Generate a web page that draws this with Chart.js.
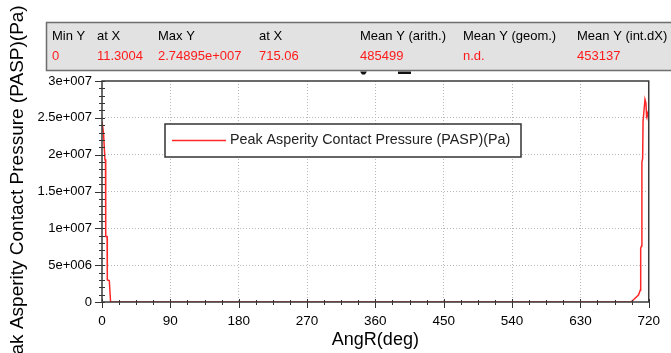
<!DOCTYPE html>
<html>
<head>
<meta charset="utf-8">
<script src="https://cdn.jsdelivr.net/npm/chart.js@4.4.1/dist/chart.umd.min.js"></script>
<style>
  body { margin: 0; background: #fff; }
  canvas { display: block; }
</style>
</head>
<body>
<canvas id="graficoPresion" width="671" height="353"></canvas>
<script>
// 1. Datos
const angulos = [0, 2, 3.9, 4.6, 4.9, 6.7, 7.0, 9.6, 11.3,
                 696.5, 701, 706.5, 708.8, 709.4, 710.5, 711, 712, 712.5,
                 715.06, 716.3, 717.2, 718.5, 720];
const presiones = [2.45e7, 2.29e7, 1.93e7, 1.93e7, 8.9e6, 8.9e6, 3.0e6, 2.9e6, 0,
                   0, 4e5, 9.5e5, 1.6e6, 7.3e6, 7.6e6, 1.9e7, 1.95e7, 2.45e7,
                   2.74895e7, 2.7e7, 2.52e7, 2.56e7, 2.45e7];
const marcasX = [0, 90, 180, 270, 360, 450, 540, 630, 720];
const marcasY = [0, 5e6, 1e7, 1.5e7, 2e7, 2.5e7, 3e7];

// tabla de estadisticas de arriba
const encabezados = ['Min Y', 'at X', 'Max Y', 'at X', 'Mean Y (arith.)', 'Mean Y (geom.)', 'Mean Y (int.dX)'];
const valores = ['0', '11.3004', '2.74895e+007', '715.06', '485499', 'n.d.', '453137'];

const FUENTE = '"Liberation Sans", Arial, sans-serif';

// 2. Formato de las etiquetas tipo 2.5e+007
function formatoExp(v) {
    if (v === 0) return '0';
    const e = Math.floor(Math.log10(v));
    const m = parseFloat((v / Math.pow(10, e)).toPrecision(6));
    return m + 'e+' + String(e).padStart(3, '0');
}

// 3. Plugin: marco, marcas de eje, leyenda y tabla
const extrasGrafico = {
    id: 'extrasGrafico',
    afterDatasetsDraw(chart) {
        const { ctx, chartArea: a, scales } = chart;
        const x = scales.x, y = scales.y;
        ctx.save();

        // marcas del eje X (cada 22.5 grados)
        ctx.strokeStyle = '#333';
        ctx.lineWidth = 1;
        for (let v = 0; v <= 720; v += 22.5) {
            const px = Math.round(x.getPixelForValue(v)) + 0.5;
            const mayor = v % 90 === 0;
            ctx.beginPath();
            ctx.moveTo(px, a.bottom - (mayor ? 3 : 2));
            ctx.lineTo(px, a.bottom + (mayor ? 6 : 3));
            ctx.stroke();
        }
        // marcas del eje Y (cada 1e6)
        for (let v = 0; v <= 3e7; v += 1e6) {
            const py = Math.round(y.getPixelForValue(v)) + 0.5;
            const mayor = v % 5e6 === 0;
            ctx.beginPath();
            ctx.moveTo(a.left - (mayor ? 7 : 3), py);
            ctx.lineTo(a.left + 3, py);
            ctx.stroke();
        }

        // marco
        ctx.strokeStyle = '#3a3a3a';
        ctx.lineWidth = 1.5;
        ctx.strokeRect(a.left, a.top, a.right - a.left, a.bottom - a.top);

        // leyenda
        const ds = chart.data.datasets[0];
        ctx.fillStyle = '#fff';
        ctx.fillRect(165, 124, 356, 33);
        ctx.strokeStyle = '#333';
        ctx.lineWidth = 1.5;
        ctx.strokeRect(165, 124, 356, 33);
        ctx.strokeStyle = ds.borderColor;
        ctx.lineWidth = 1.5;
        ctx.beginPath();
        ctx.moveTo(172, 140.5);
        ctx.lineTo(226, 140.5);
        ctx.stroke();
        ctx.fillStyle = '#222';
        ctx.font = '14.3px ' + FUENTE;
        ctx.textBaseline = 'middle';
        ctx.textAlign = 'left';
        ctx.fillText(ds.label, 230, 140);

        ctx.restore();
    },
    afterDraw(chart) {
        const ctx = chart.ctx;
        ctx.save();
        // restos negros bajo la tabla
        ctx.fillStyle = '#111';
        ctx.beginPath();
        ctx.moveTo(360, 71.5); ctx.lineTo(367, 71.5); ctx.lineTo(365, 74.5); ctx.lineTo(362, 74.5);
        ctx.fill();
        ctx.fillRect(398, 71.5, 13, 2.5);

        // tabla
        ctx.fillStyle = '#e2e2e2';
        ctx.fillRect(46.5, 22.5, 640, 48);
        ctx.strokeStyle = '#6e6e6e';
        ctx.lineWidth = 1.5;
        ctx.strokeRect(46.5, 22.5, 640, 48);

        const columnas = [52, 97, 158, 259, 360, 463, 577];
        ctx.font = '13px ' + FUENTE;
        ctx.textBaseline = 'middle';
        ctx.textAlign = 'left';
        encabezados.forEach((t, i) => {
            ctx.fillStyle = '#000';
            ctx.fillText(t, columnas[i], 36);
        });
        valores.forEach((t, i) => {
            ctx.fillStyle = '#ff1a1a';
            ctx.fillText(t, columnas[i], 56);
        });
        ctx.restore();
    }
};

// 4. Grafico
const ctx = document.getElementById('graficoPresion').getContext('2d');
const graficoPresion = new Chart(ctx, {
    type: 'line',
    data: {
        datasets: [{
            label: 'Peak Asperity Contact Pressure (PASP)(Pa)',
            data: angulos.map((a, i) => ({ x: a, y: presiones[i] })),
            borderColor: 'rgb(255, 40, 40)',
            borderWidth: 1.5,
            pointRadius: 0,
            tension: 0
        }]
    },
    options: {
        responsive: false,
        animation: false,
        devicePixelRatio: 1,
        layout: { padding: { top: 81, right: 18, left: 0, bottom: 0 } },
        plugins: {
            legend: { display: false },
            tooltip: { enabled: false }
        },
        scales: {
            x: {
                type: 'linear',
                min: 0,
                max: 720,
                afterBuildTicks: s => { s.ticks = marcasX.map(v => ({ value: v })); },
                afterFit: s => { s.height = 51; },
                grid: {
                    color: c => (c.tick && (c.tick.value === 0 || c.tick.value === 720)) ? 'rgba(0,0,0,0)' : '#b8b8b8',
                    lineWidth: 1,
                    drawTicks: false
                },
                border: { display: false, dash: [1, 2] },
                ticks: {
                    padding: 11,
                    color: '#000',
                    maxRotation: 0,
                    autoSkip: false,
                    font: { family: FUENTE, size: 13.5 }
                },
                title: {
                    display: true,
                    text: 'AngR(deg)',
                    color: '#000',
                    font: { family: FUENTE, size: 18 },
                    padding: { top: 0, bottom: 2 }
                }
            },
            y: {
                min: 0,
                max: 3e7,
                afterBuildTicks: s => { s.ticks = marcasY.map(v => ({ value: v })); },
                afterFit: s => { s.width = 102; },
                grid: {
                    color: c => (c.tick && (c.tick.value === 0 || c.tick.value === 3e7)) ? 'rgba(0,0,0,0)' : '#b8b8b8',
                    lineWidth: 1,
                    drawTicks: false
                },
                border: { display: false, dash: [1, 2] },
                ticks: {
                    padding: 10,
                    color: '#000',
                    font: { family: FUENTE, size: 13 },
                    callback: v => formatoExp(v)
                },
                title: {
                    display: true,
                    text: 'Peak Asperity Contact Pressure (PASP)(Pa)',
                    color: '#000',
                    font: { family: FUENTE, size: 19 },
                    padding: { top: 6, bottom: 0 }
                }
            }
        }
    },
    plugins: [extrasGrafico]
});
</script>
</body>
</html>
